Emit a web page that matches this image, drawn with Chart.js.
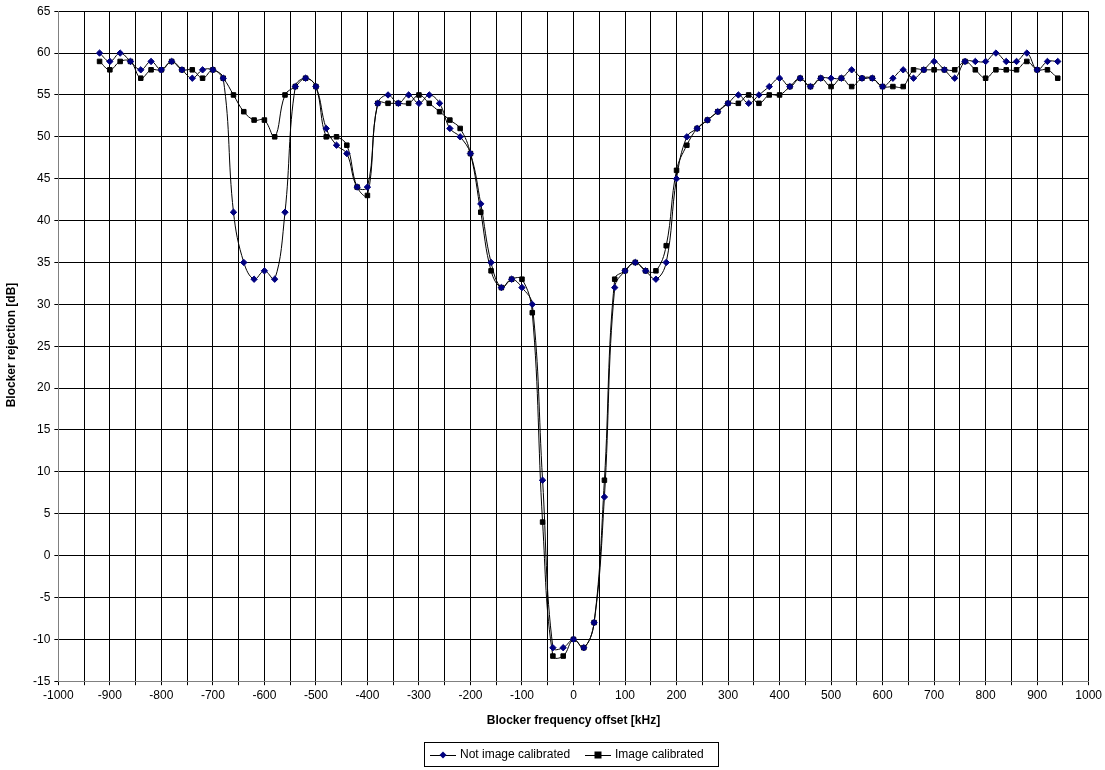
<!DOCTYPE html>
<html>
<head>
<meta charset="utf-8">
<script src="https://cdn.jsdelivr.net/npm/chart.js@4"></script>
<style>
body { margin: 0; background: #fff; }
#wrap { width: 1105px; height: 770px; position: relative; }
</style>
</head>
<body>
<div id="wrap"><canvas id="myChart" width="1105" height="770"></canvas></div>
<script>
// blocker offsets in kHz
const offsets = [-920,-900,-880,-860,-840,-820,-800,-780,-760,-740,-720,-700,-680,-660,-640,-620,-600,-580,-560,-540,
  -520,-500,-480,-460,-440,-420,-400,-380,-360,-340,-320,-300,-280,-260,-240,-220,-200,-180,-160,-140,
  -120,-100,-80,-60,-40,-20,0,20,40,60,80,100,120,140,160,180,200,220,240,260,
  280,300,320,340,360,380,400,420,440,460,480,500,520,540,560,580,600,620,640,660,
  680,700,720,740,760,780,800,820,840,860,880,900,920,940];

const notCalibrated = [60,59,60,59,58,59,58,59,58,57,58,58,57,41,35,33,34,33,41,56,
  57,56,51,49,48,44,44,54,55,54,55,54,55,54,51,50,48,42,35,32,
  33,32,30,9,-11,-11,-10,-11,-8,7,32,34,35,34,33,35,45,50,51,52,
  53,54,55,54,55,56,57,56,57,56,57,57,57,58,57,57,56,57,58,57,
  58,59,58,57,59,59,59,60,59,59,60,58,59,59];

const calibrated = [59,58,59,59,57,58,58,59,58,58,57,58,57,55,53,52,52,50,55,56,
  57,56,50,50,49,44,43,54,54,54,54,55,54,53,52,51,48,41,34,32,
  33,33,29,4,-12,-12,-10,-11,-8,9,33,34,35,34,34,37,46,49,51,52,
  53,54,54,55,54,55,55,56,57,56,57,56,57,56,57,57,56,56,56,58,
  58,58,58,58,59,58,57,58,58,58,59,58,58,57];

function toPoints(vals) {
    return offsets.map(function (x, i) { return {x: x, y: vals[i]}; });
}

const fam = 'Liberation Sans, Arial, sans-serif';
const font = {family: fam, size: 12};

// excel style legend box + rotated y title
const extras = {
    id: 'extras',
    afterDraw: function (chart) {
        const ctx = chart.ctx;
        ctx.save();
        ctx.fillStyle = '#000';
        ctx.strokeStyle = '#000';
        ctx.lineWidth = 1;

        ctx.translate(12, 345);
        ctx.rotate(-Math.PI / 2);
        ctx.font = 'bold 12px ' + fam;
        ctx.textAlign = 'center';
        ctx.textBaseline = 'middle';
        ctx.fillText('Blocker rejection [dB]', 0, 0);
        ctx.setTransform(1, 0, 0, 1, 0, 0);

        ctx.strokeRect(424.5, 742.5, 294, 24);
        ctx.font = '12px ' + fam;
        ctx.textAlign = 'left';
        const y = 755;
        const items = [
            {x: 430, text: chart.data.datasets[0].label, shape: 'diamond', color: '#000080'},
            {x: 585, text: chart.data.datasets[1].label, shape: 'square', color: '#000'}
        ];
        items.forEach(function (it) {
            ctx.strokeStyle = '#000';
            ctx.beginPath();
            ctx.moveTo(it.x, y + 0.5);
            ctx.lineTo(it.x + 26, y + 0.5);
            ctx.stroke();
            ctx.fillStyle = it.color;
            const cx = it.x + 13;
            ctx.beginPath();
            if (it.shape === 'diamond') {
                ctx.moveTo(cx, y - 3.5); ctx.lineTo(cx + 3.5, y); ctx.lineTo(cx, y + 3.5); ctx.lineTo(cx - 3.5, y);
            } else {
                ctx.rect(cx - 3.5, y - 3.5, 7, 7);
            }
            ctx.fill();
            ctx.fillStyle = '#000';
            ctx.fillText(it.text, it.x + 30, y);
        });
        ctx.restore();
    }
};

const ctx = document.querySelector('#myChart').getContext('2d');
new Chart(ctx, {
    type: 'line',
    data: {
        datasets: [{
            label: 'Not image calibrated',
            data: toPoints(notCalibrated),
            borderColor: '#000',
            borderWidth: 1,
            backgroundColor: '#000080',
            pointBorderColor: '#000080',
            pointStyle: 'rectRot',
            pointRadius: 3.2,
            tension: 0.4,
            fill: false
        }, {
            label: 'Image calibrated',
            data: toPoints(calibrated),
            borderColor: '#000',
            borderWidth: 1,
            backgroundColor: '#000',
            pointBorderColor: '#000',
            pointStyle: 'rect',
            pointRadius: 3.2,
            tension: 0.4,
            fill: false
        }]
    },
    options: {
        responsive: false,
        animation: false,
        layout: {padding: {top: 10, left: 29, right: 12, bottom: 42}},
        plugins: {
            tooltip: {enabled: false},
            legend: {display: false}
        },
        scales: {
            x: {
                type: 'linear',
                min: -1000,
                max: 1000,
                ticks: {
                    stepSize: 50,
                    color: '#000',
                    font: font,
                    maxRotation: 0,
                    autoSkip: false,
                    padding: 3,
                    callback: function (v) { return v % 100 === 0 ? v : ''; }
                },
                grid: {color: '#000', lineWidth: 1, tickLength: 4},
                border: {color: '#808080'},
                title: {
                    display: true,
                    text: 'Blocker frequency offset [kHz]',
                    color: '#000',
                    font: {family: fam, size: 12, weight: 'bold'},
                    padding: {top: 8, bottom: 0}
                }
            },
            y: {
                min: -15,
                max: 65,
                ticks: {stepSize: 5, color: '#000', font: font, padding: 4},
                grid: {color: '#000', lineWidth: 1, tickLength: 4},
                border: {color: '#808080'}
            }
        }
    },
    plugins: [extras]
});
</script>
</body>
</html>
